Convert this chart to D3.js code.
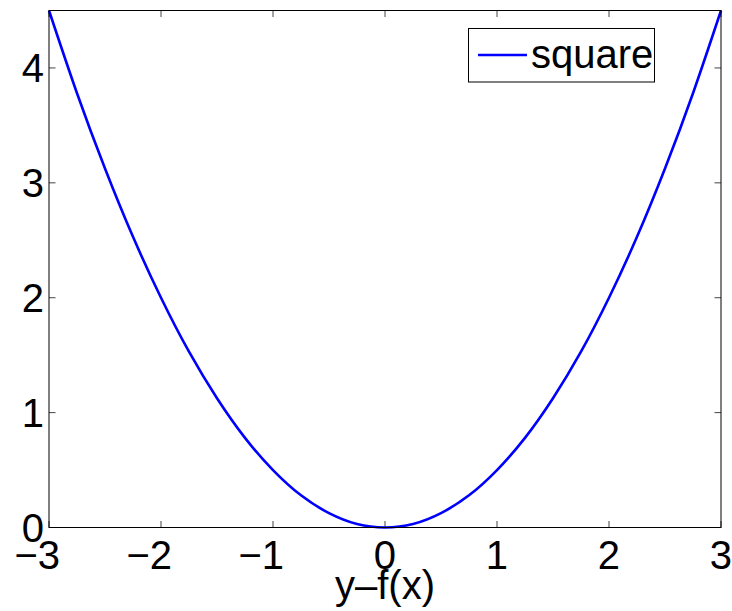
<!DOCTYPE html>
<html>
<head>
<meta charset="utf-8">
<script src="https://cdn.jsdelivr.net/npm/d3@7"></script>
<style>
  html, body { margin: 0; padding: 0; background: #fff; }
  svg text { font-family: "Liberation Sans", Arial, Helvetica, sans-serif; fill: #000; }
</style>
</head>
<body>
<svg id="chart" width="732" height="611"></svg>
<script>
// Sampled loss curve
const xs = [-3, -2.75, -2.5, -2.25, -2, -1.75, -1.5, -1.25, -1, -0.75, -0.5, -0.25, 0,
            0.25, 0.5, 0.75, 1, 1.25, 1.5, 1.75, 2, 2.25, 2.5, 2.75, 3];
const ys = [4.5, 3.78, 3.125, 2.53, 2, 1.53, 1.125, 0.78, 0.5, 0.28, 0.125, 0.03, 0,
            0.03, 0.125, 0.28, 0.5, 0.78, 1.125, 1.53, 2, 2.53, 3.125, 3.78, 4.5];
const xTicks = [-3, -2, -1, 0, 1, 2, 3];
const yTicks = [0, 1, 2, 3, 4];
const seriesName = "square";
const xLabel = "y\u2013f(x)";

const svg = d3.select("#chart");
const L = 49, R = 721, T = 10.5, B = 527.5;
const FS = 40;

const x = d3.scaleLinear().domain([-3, 3]).range([L, R]);
const y = d3.scaleLinear().domain([0, 4.5]).range([B, T]);

const fmt = v => (v < 0 ? "\u2212" : "") + Math.abs(v);

// ticks (inside, mirrored on all four sides)
const tickLen = 6.5;
const tickG = svg.append("g").attr("stroke", "#444").attr("stroke-width", 1);
xTicks.forEach(t => {
  tickG.append("line").attr("x1", x(t)).attr("x2", x(t)).attr("y1", B).attr("y2", B - tickLen);
  tickG.append("line").attr("x1", x(t)).attr("x2", x(t)).attr("y1", T).attr("y2", T + tickLen);
});
yTicks.forEach(t => {
  tickG.append("line").attr("y1", y(t)).attr("y2", y(t)).attr("x1", L).attr("x2", L + tickLen);
  tickG.append("line").attr("y1", y(t)).attr("y2", y(t)).attr("x1", R).attr("x2", R - tickLen);
});

// curve
const line = d3.line()
  .x((d, i) => x(xs[i]))
  .y(d => y(d))
  .curve(d3.curveNatural);
svg.append("path")
  .datum(ys)
  .attr("d", line)
  .attr("fill", "none")
  .attr("stroke", "#0000ff")
  .attr("stroke-width", 2.6);

// axes box
svg.append("rect")
  .attr("x", L).attr("y", T).attr("width", R - L).attr("height", B - T)
  .attr("fill", "none").attr("stroke", "#000").attr("stroke-width", 1);

// x tick labels: digit centred on the tick, sign hangs to the left
const digitHalf = FS * 0.556 / 2;
svg.append("g").selectAll("text")
  .data(xTicks).join("text")
  .attr("x", d => x(d) + digitHalf)
  .attr("y", 569)
  .attr("text-anchor", "end")
  .attr("font-size", FS)
  .text(fmt);

// y tick labels
svg.append("g").selectAll("text")
  .data(yTicks).join("text")
  .attr("x", 44)
  .attr("y", d => y(d) + 14.5)
  .attr("text-anchor", "end")
  .attr("font-size", FS)
  .text(fmt);

// x axis label
svg.append("text")
  .attr("x", (L + R) / 2)
  .attr("y", 599)
  .attr("text-anchor", "middle")
  .attr("font-size", FS)
  .text(xLabel);

// legend
const lg = svg.append("g");
lg.append("rect")
  .attr("x", 468.5).attr("y", 28.5).attr("width", 186).attr("height", 53.5)
  .attr("fill", "#fff").attr("stroke", "#000").attr("stroke-width", 1);
lg.append("line")
  .attr("x1", 478).attr("x2", 527).attr("y1", 55).attr("y2", 55)
  .attr("stroke", "#0000ff").attr("stroke-width", 2.6);
lg.append("text")
  .attr("x", 531).attr("y", 68)
  .attr("font-size", FS)
  .text(seriesName);
</script>
</body>
</html>
